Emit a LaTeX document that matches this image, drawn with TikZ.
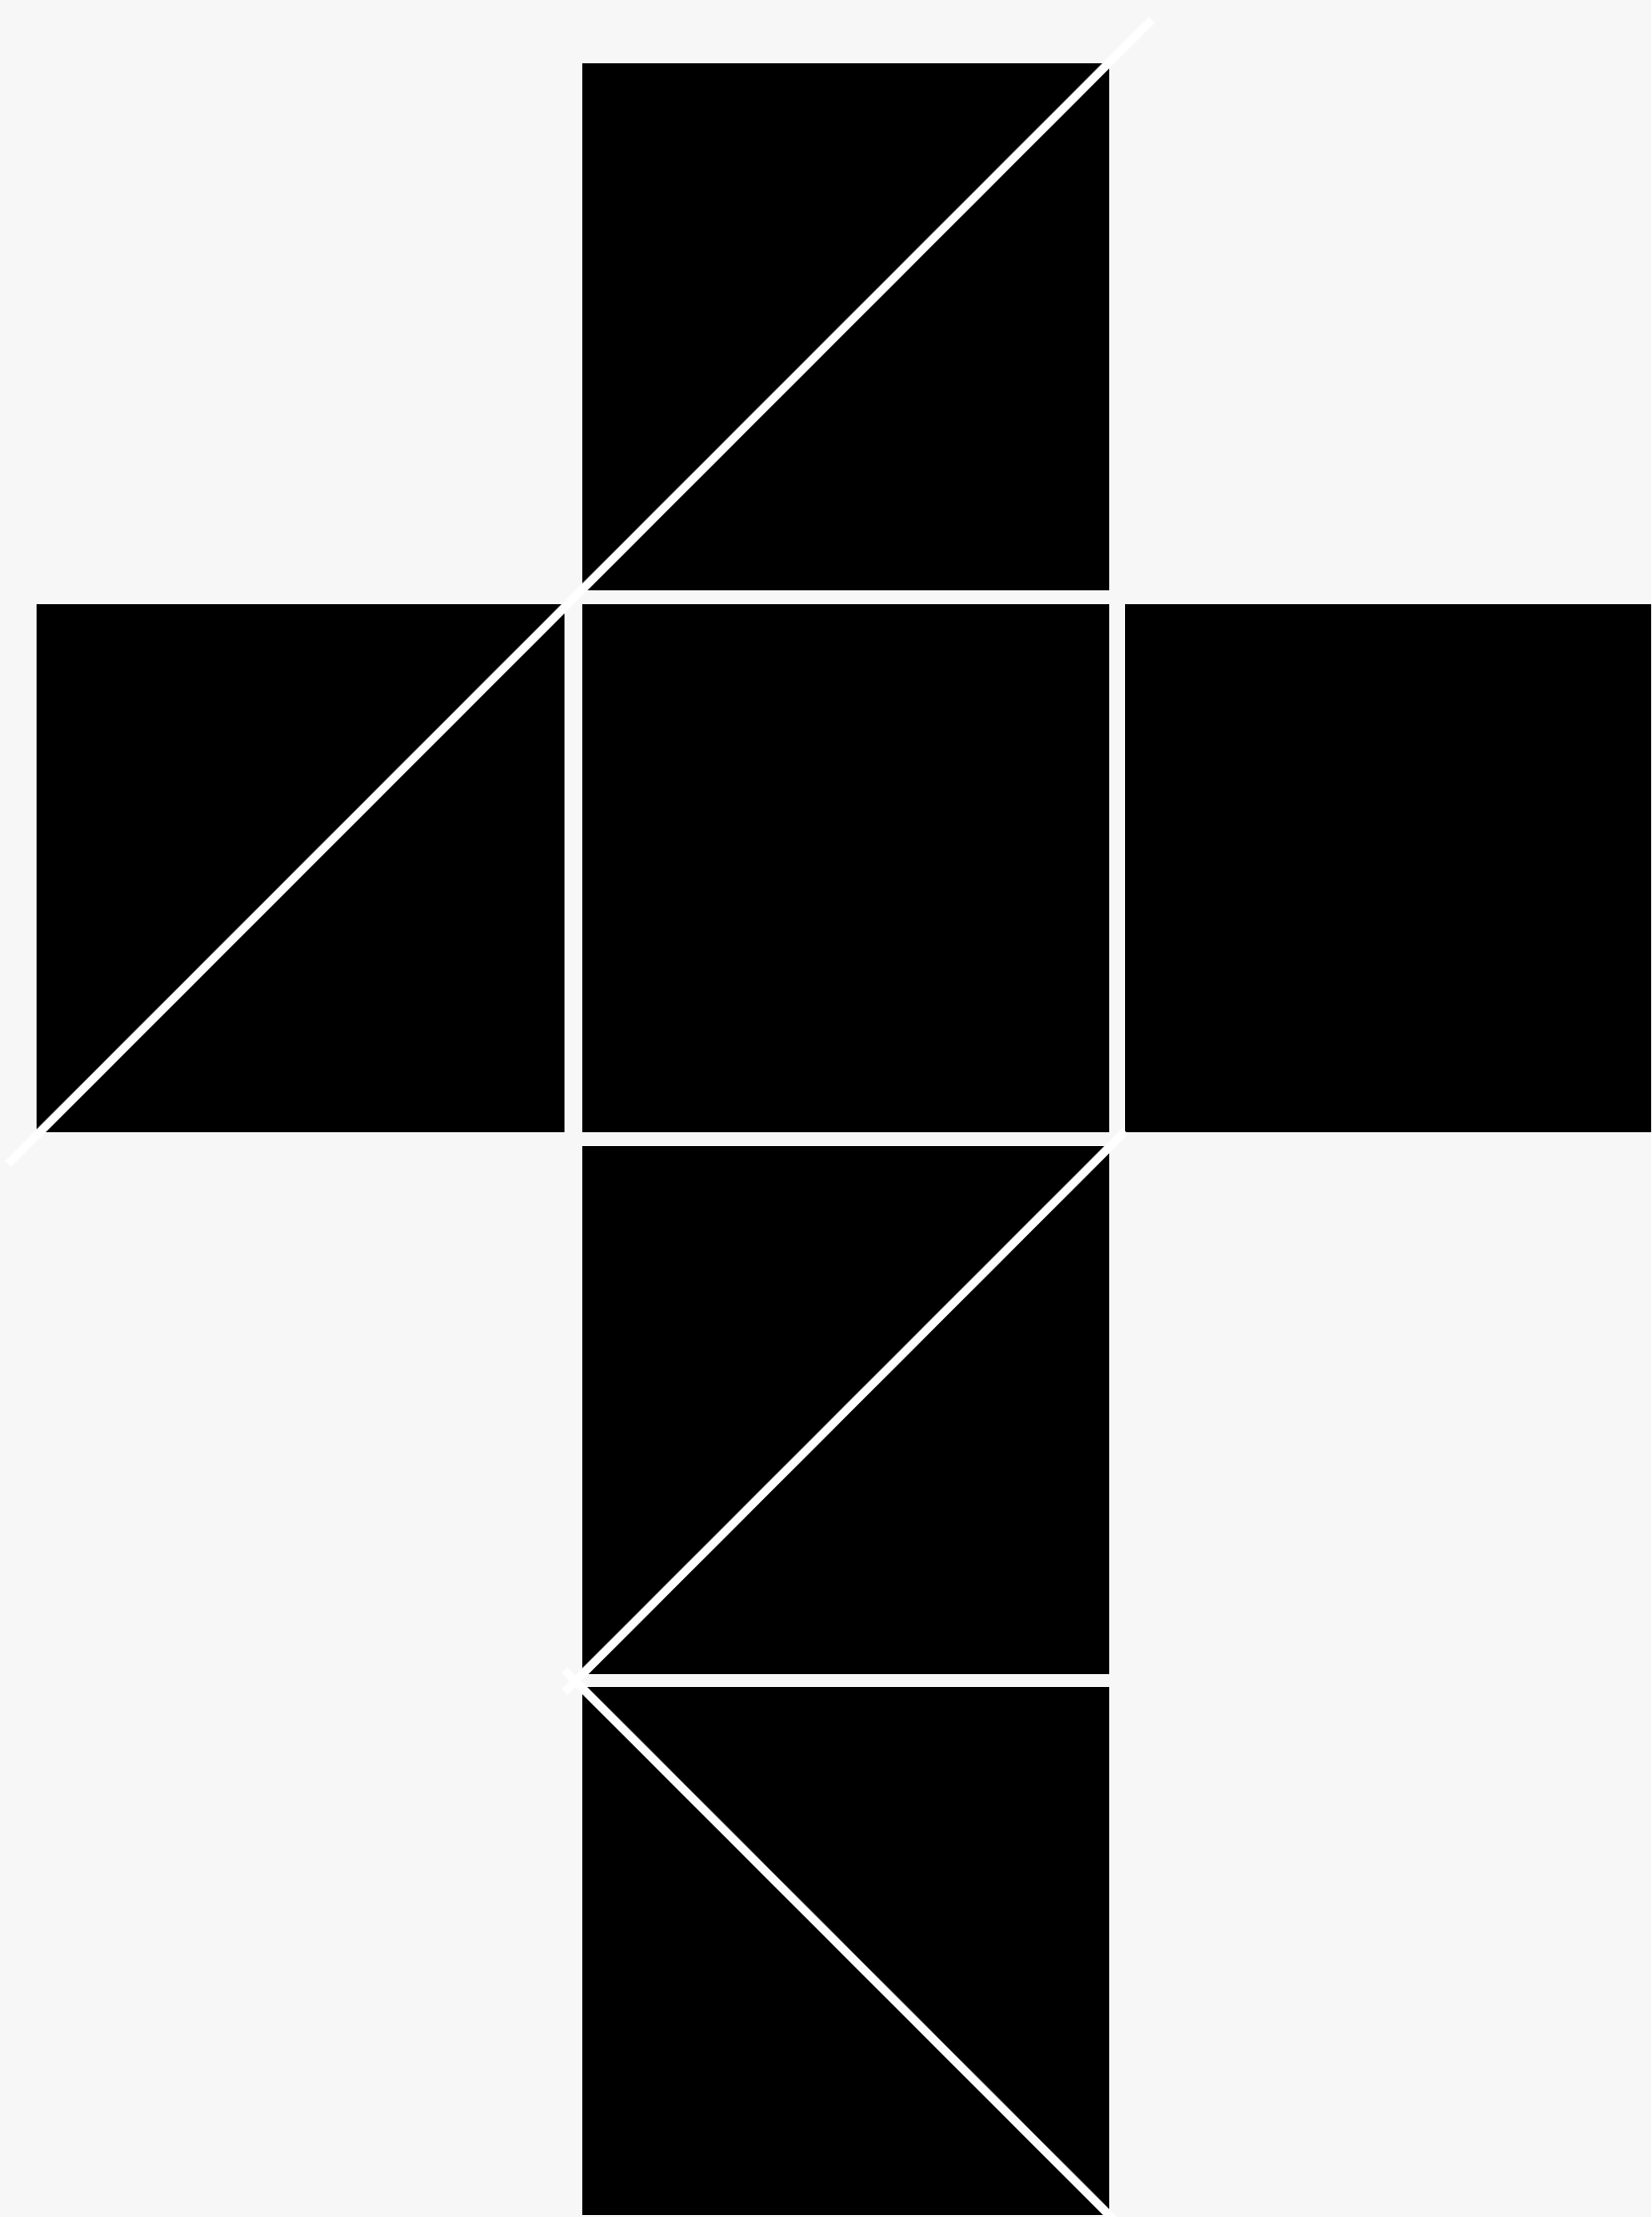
\documentclass[tikz,border=0pt]{standalone}
\definecolor{bg}{HTML}{F7F7F7}
\tikzset{face/.style={fill=black,draw=none},
  cutline/.style={draw=white,line width=8.5pt}}
\begin{document}
\begin{tikzpicture}[x=1pt,y=-1pt]
\path[use as bounding box,fill=bg] (0,0) rectangle (1670,2242);
\begin{scope}
\clip (0,0) rectangle (1670,2242);
% faces
\path[face] (589,64) rectangle (1122,597);
\path[face] (37,611) rectangle (571,1145);
\path[face] (589,611) rectangle (1122,1145);
\path[face] (1138,611) rectangle (1675,1145);
\path[face] (589,1159) rectangle (1122,1693);
\path[face] (589,1706) rectangle (1122,2240);
% diagonals
\coordinate (a1) at (1165,20);
\coordinate (a2) at (8,1177);
\coordinate (b1) at (1138,1144);
\coordinate (b2) at (571,1711);
\coordinate (c1) at (571,1689);
\coordinate (c2) at (1132,2250);
\draw[cutline] (a1) -- (a2);
\draw[cutline] (b1) -- (b2);
\draw[cutline] (c1) -- (c2);
\end{scope}
\end{tikzpicture}
\end{document}
